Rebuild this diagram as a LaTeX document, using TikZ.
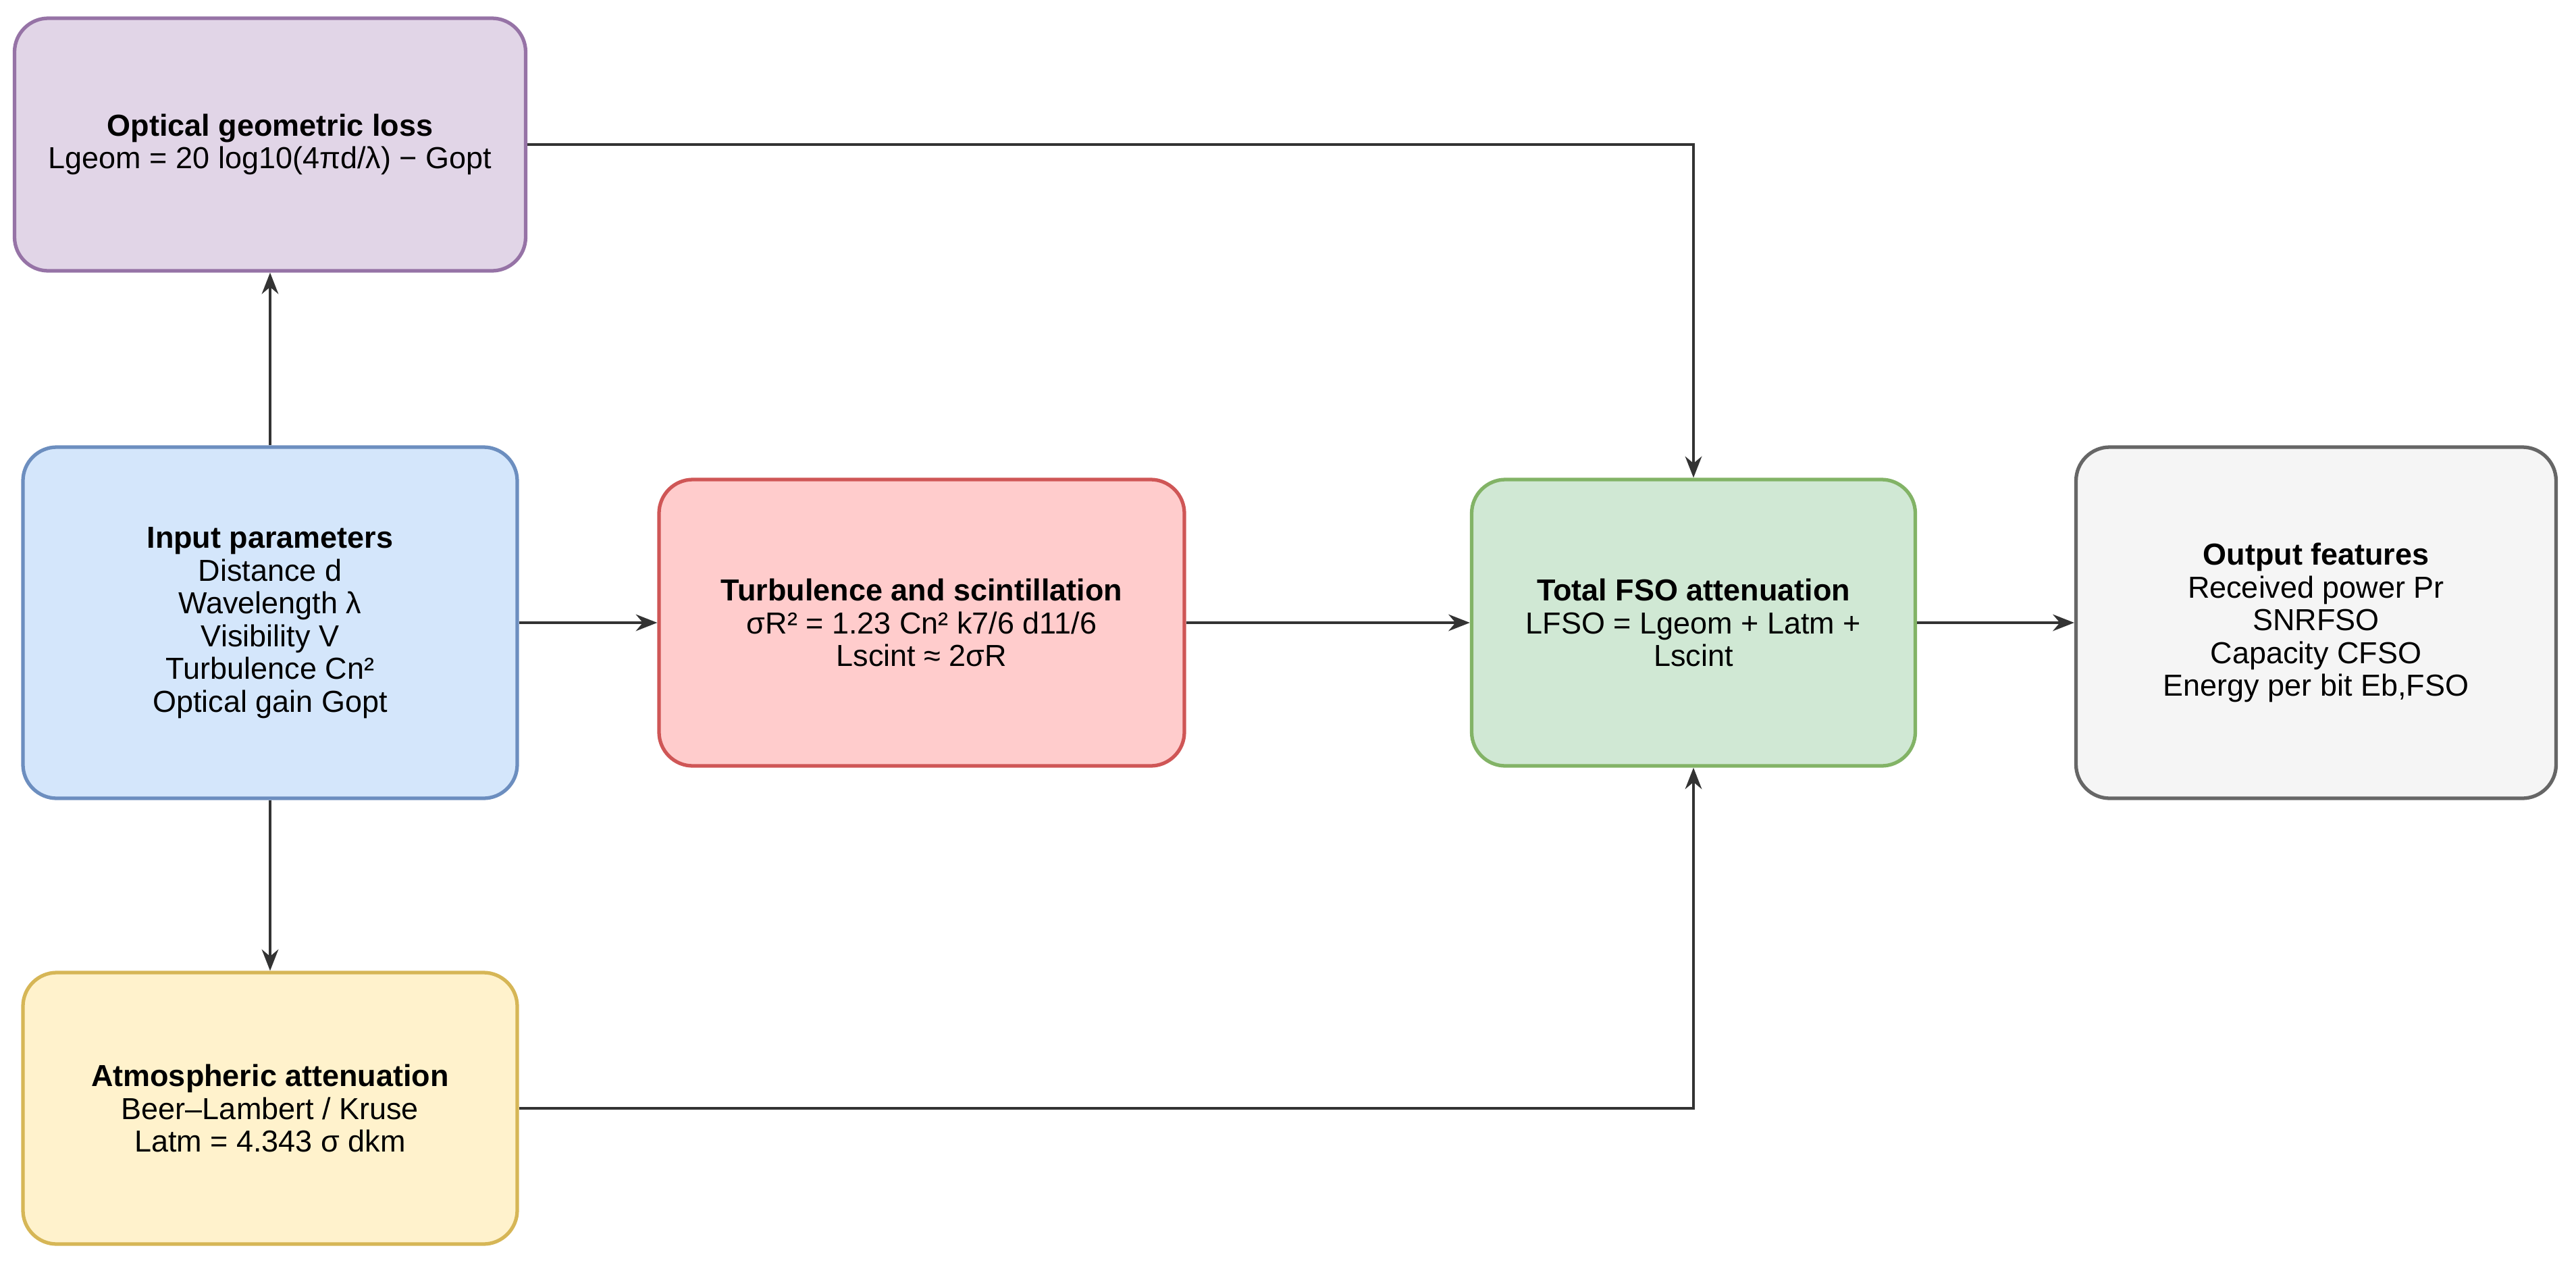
\documentclass[tikz,border=0pt]{standalone}
\usepackage{fontspec}
\setmainfont{Liberation Sans}
\usetikzlibrary{arrows.meta,calc}

\definecolor{geofill}{HTML}{E1D5E7}\definecolor{geoline}{HTML}{9673A6}
\definecolor{inpfill}{HTML}{D4E6FB}\definecolor{inpline}{HTML}{6C8EBF}
\definecolor{atmfill}{HTML}{FFF2CC}\definecolor{atmline}{HTML}{D6B656}
\definecolor{turbfill}{HTML}{FFCCCC}\definecolor{turbline}{HTML}{CF5656}
\definecolor{totfill}{HTML}{D0E8D4}\definecolor{totline}{HTML}{82B366}
\definecolor{outfill}{HTML}{F5F5F5}\definecolor{outline}{HTML}{666666}
\definecolor{wire}{HTML}{333333}

\tikzset{
    block/.style={draw, line width=1.5pt, rounded corners=0.5cm, align=center,
        font=\fontsize{12.8}{13.8}\selectfont, inner sep=0pt},
    wire/.style={draw=wire, line width=1.1pt, -{Stealth[length=9pt,width=7pt]}}
}

\begin{document}
\begin{tikzpicture}
    \useasboundingbox (0,0) rectangle (38.15,-18.73);

    \node[block, fill=geofill, draw=geoline, minimum width=7.57cm, minimum height=3.74cm] at (4.00,-2.14) (GEO)
        {\textbf{Optical geometric loss}\\Lgeom = 20 log10(4πd/λ) − Gopt};
    \node[block, fill=inpfill, draw=inpline, minimum width=7.32cm, minimum height=5.20cm] at (4.00,-9.22) (INP)
        {\textbf{Input parameters}\\Distance d\\Wavelength λ\\Visibility V\\Turbulence Cn²\\Optical gain Gopt};
    \node[block, fill=atmfill, draw=atmline, minimum width=7.32cm, minimum height=4.02cm] at (4.00,-16.41) (ATM)
        {\textbf{Atmospheric attenuation}\\Beer–Lambert / Kruse\\Latm = 4.343 σ dkm};
    \node[block, fill=turbfill, draw=turbline, minimum width=7.78cm, minimum height=4.24cm] at (13.65,-9.22) (TURB)
        {\textbf{Turbulence and scintillation}\\σR² = 1.23 Cn² k7/6 d11/6\\Lscint ≈ 2σR};
    \node[block, fill=totfill, draw=totline, minimum width=6.57cm, minimum height=4.24cm] at (25.08,-9.22) (TOT)
        {\textbf{Total FSO attenuation}\\LFSO = Lgeom + Latm +\\Lscint};
    \node[block, fill=outfill, draw=outline, minimum width=7.11cm, minimum height=5.20cm] at (34.30,-9.22) (OUT)
        {\textbf{Output features}\\Received power Pr\\SNRFSO\\Capacity CFSO\\Energy per bit Eb,FSO};

    \draw[wire] (INP.north) -- (GEO.south);
    \draw[wire] (INP.south) -- (ATM.north);
    \draw[wire] (INP.east) -- (TURB.west);
    \draw[wire] (TURB.east) -- (TOT.west);
    \draw[wire] (TOT.east) -- (OUT.west);
    \draw[wire] (GEO.east) -| (TOT.north);
    \draw[wire] (ATM.east) -| (TOT.south);
\end{tikzpicture}
\end{document}
